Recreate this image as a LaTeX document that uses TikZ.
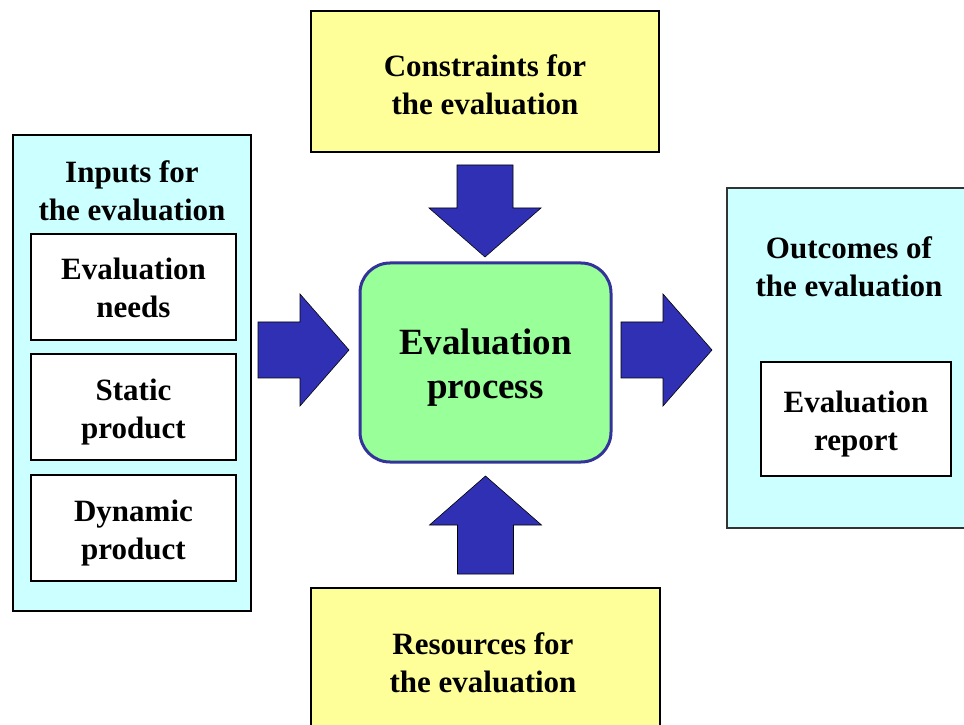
\documentclass[tikz,border=0pt]{standalone}
\usepackage{fontspec}
\setmainfont{Liberation Serif}
\definecolor{boxyellow}{HTML}{FFFF99}
\definecolor{boxcyan}{HTML}{CCFFFF}
\definecolor{boxgreen}{HTML}{99FF99}
\definecolor{procborder}{HTML}{333399}
\definecolor{arrowblue}{HTML}{3030B4}
\newcommand{\blkarrow}[4]{%
  \begin{scope}[shift={(#1,#2)},rotate=#3]
    \path[arrowfill] (0,-28) -- ({#4-49},-28) -- ({#4-49},-56) -- (#4,0) -- ({#4-49},56) -- ({#4-49},28) -- (0,28) -- cycle;
  \end{scope}}
\tikzset{
  arrowfill/.style={fill=arrowblue, draw=black, line width=0.6pt},
  lbl/.style={font=\bfseries\fontsize{31}{38}\selectfont, align=center, inner sep=0pt},
  biglbl/.style={font=\bfseries\fontsize{37}{44}\selectfont, align=center, inner sep=0pt},
  yellowbox/.style={fill=boxyellow, draw=black, line width=2.2pt},
  cyanbox/.style={fill=boxcyan, draw=black, line width=2.2pt},
  whitebox/.style={fill=white, draw=black, line width=2.4pt}
}
\begin{document}
\begin{tikzpicture}[x=1pt,y=1pt]
\useasboundingbox (0,0) rectangle (964,724);
% boxes
\draw[yellowbox] (311,572) rectangle (659,713);
\node[lbl] (constraints) at (485,639) {Constraints for\\the evaluation};
\draw[cyanbox] (13,113) rectangle (251,589);
\node[lbl] (inputs) at (132,533) {Inputs for\\the evaluation};
\draw[whitebox] (31,384) rectangle (236,490);
\node[lbl] (needs) at (133.5,436) {Evaluation\\needs};
\draw[whitebox] (31,264) rectangle (236,370);
\node[lbl] (static) at (133.5,312) {Static\\product};
\draw[whitebox] (31,143) rectangle (236,249);
\node[lbl] (dynamic) at (133.5,191) {Dynamic\\product};
\draw[fill=boxgreen, draw=procborder, line width=3pt, rounded corners=30pt] (360,262) rectangle (611,461);
\node[biglbl] (process) at (485.5,356) {Evaluation\\process};
\draw[fill=boxcyan, draw=black!80, line width=1.4pt] (727,196) rectangle (980,536);
\node[lbl] (outcomes) at (849,457) {Outcomes of\\the evaluation};
\draw[whitebox] (761,248) rectangle (951,362);
\node[lbl] (report) at (856,300) {Evaluation\\report};
\draw[yellowbox] (311,-20) rectangle (660,136);
\node[lbl] (resources) at (483,61) {Resources for\\the evaluation};
% block arrows
\blkarrow{258}{374}{0}{91}
\blkarrow{621}{374}{0}{91}
\blkarrow{485}{559}{-90}{92}
\blkarrow{485.5}{150}{90}{98}
\end{tikzpicture}
\end{document}
